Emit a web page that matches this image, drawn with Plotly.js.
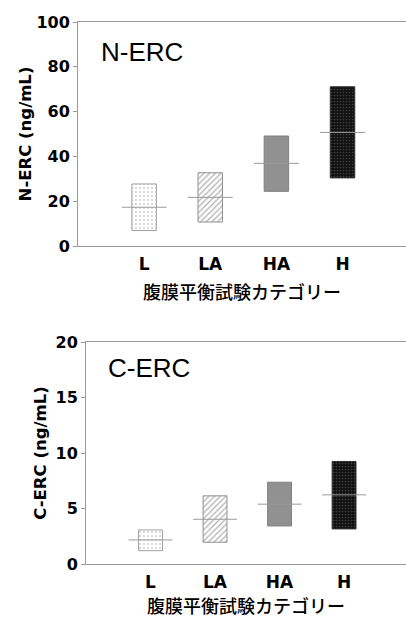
<!DOCTYPE html>
<html><head><meta charset="utf-8">
<script src="https://cdn.plot.ly/plotly-3.0.1.min.js"></script>
<style>html,body{margin:0;padding:0;background:#fff;}#chart{width:406px;height:618px;}</style>
</head><body><div id="chart"></div>
<script>
// Data
const categories = ["L", "LA", "HA", "H"];
const nercLow = [6.9, 10.7, 24.4, 30.4];
const nercHigh = [27.7, 32.7, 49.1, 71.1];
const nercMedian = [17.3, 21.7, 36.9, 50.7];
const cercLow = [1.2, 1.96, 3.43, 3.16];
const cercHigh = [3.07, 6.14, 7.37, 9.24];
const cercMedian = [2.17, 4.03, 5.39, 6.23];
const nercTicks = [0, 20, 40, 60, 80, 100];
const cercTicks = [0, 5, 10, 15, 20];
const xTitle = "腹膜平衡試験カテゴリー";

const idx = categories.map((c, i) => i);
const patterns = [
  {shape: ".", bgcolor: "#ffffff", fgcolor: "#a8a8a8", size: 4, solidity: 0.12},
  {shape: "/", bgcolor: "#ffffff", fgcolor: "#b0b0b0", size: 4, solidity: 0.3},
  {shape: ".", bgcolor: "#a4a4a4", fgcolor: "#7a7a7a", size: 2, solidity: 0.5},
  {shape: ".", bgcolor: "#101010", fgcolor: "#404040", size: 3, solidity: 0.25}
];
const borderColors = ["#a0a0a0", "#909090", "#808080", "#333333"];

function makeTraces(low, high, med, xa, ya) {
  const traces = [];
  categories.forEach((c, i) => {
    traces.push({
      type: "bar", x: [idx[i]], y: [high[i] - low[i]], base: [low[i]],
      width: 0.37, xaxis: xa, yaxis: ya, hoverinfo: "skip",
      marker: {color: patterns[i].bgcolor, pattern: patterns[i], line: {color: borderColors[i], width: 1}},
      showlegend: false
    });
  });
  traces.push({
    type: "scatter", mode: "markers", x: idx, y: med, xaxis: xa, yaxis: ya,
    marker: {size: 1, color: "rgba(0,0,0,0)"}, showlegend: false, hoverinfo: "skip",
    error_x: {type: "constant", value: 0.34, width: 0, thickness: 1, color: "#9a9a9a"}
  });
  return traces;
}

const data = [].concat(
  makeTraces(nercLow, nercHigh, nercMedian, "x", "y"),
  makeTraces(cercLow, cercHigh, cercMedian, "x2", "y2")
);

const W = 406, H = 618;
const tickFontY = {family: "DejaVu Sans", size: 16, weight: "bold", color: "#000"};
const tickFontX = {family: "DejaVu Sans", size: 17, weight: "bold", color: "#000"};
const yTitleFont = {family: "DejaVu Sans", size: 16.5, weight: "bold", color: "#000"};
const xTitleFont = {family: "Noto Sans CJK JP", size: 18, weight: 500, color: "#000"};

function xaxisDef(domain, anchor) {
  return {
    domain: domain, anchor: anchor, range: [-1, 3.96], tickvals: idx, ticktext: categories,
    showline: true, linecolor: "#9a9a9a", linewidth: 1, mirror: true, showgrid: false, zeroline: false,
    ticks: "", tickfont: tickFontX, ticklabelstandoff: 3,
    title: {text: xTitle, font: xTitleFont, standoff: 12}
  };
}
function yaxisDef(domain, anchor, range, tickvals, title, standoff) {
  return {
    domain: domain, anchor: anchor, range: range, tickvals: tickvals,
    showline: true, linecolor: "#9a9a9a", linewidth: 1, showgrid: false, zeroline: false,
    ticks: "outside", ticklen: 4, tickcolor: "#9a9a9a", tickfont: tickFontY,
    title: {text: title, font: yTitleFont, standoff: standoff}
  };
}

const layout = {
  width: W, height: H, margin: {l: 0, r: 0, t: 0, b: 0},
  paper_bgcolor: "#fff", plot_bgcolor: "#fff", showlegend: false, bargap: 0,
  xaxis: xaxisDef([78 / W, 1], "y"),
  yaxis: yaxisDef([(H - 246) / H, (H - 22) / H], "x", [0, 100], nercTicks, "N-ERC (ng/mL)", 0),
  xaxis2: xaxisDef([86 / W, 1], "y2"),
  yaxis2: yaxisDef([(H - 564) / H, (H - 342) / H], "x2", [0, 20], cercTicks, "C-ERC (ng/mL)", 4),
  annotations: [
    {text: "N-ERC", xref: "paper", yref: "paper", x: 99 / W, y: (H - 52) / H, xanchor: "left", yanchor: "middle",
     showarrow: false, font: {family: "Liberation Sans", size: 26, color: "#000"}},
    {text: "C-ERC", xref: "paper", yref: "paper", x: 106 / W, y: (H - 368) / H, xanchor: "left", yanchor: "middle",
     showarrow: false, font: {family: "Liberation Sans", size: 26, color: "#000"}}
  ]
};

Plotly.newPlot("chart", data, layout, {staticPlot: true, displayModeBar: false});
</script></body></html>
